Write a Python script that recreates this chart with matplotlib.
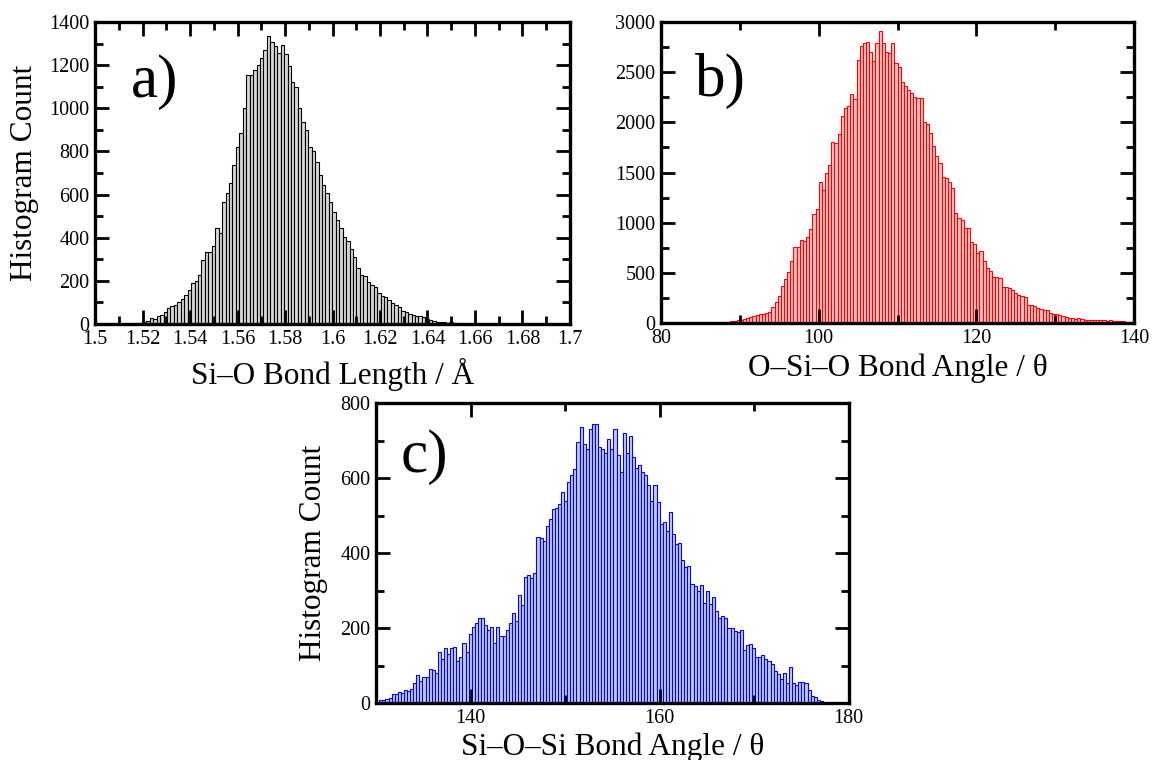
import numpy as np
import matplotlib
matplotlib.use("Agg")
import matplotlib.pyplot as plt
from matplotlib.ticker import MultipleLocator, FormatStrFormatter

plt.rcParams['font.family'] = ['Liberation Serif', 'DejaVu Serif']

# a) Si-O bond length histogram (bin width in Angstrom)
len_start = 1.51728
len_width = 0.00145
len_counts = [2, 5, 10, 12, 28, 25, 36, 40, 57, 72, 85, 88, 103, 115, 134, 158, 190, 200,
              227, 297, 332, 332, 363, 446, 420, 567, 605, 652, 737, 822, 884, 1000, 1154,
              1154, 1177, 1200, 1231, 1270, 1335, 1305, 1290, 1255, 1295, 1250, 1195, 1120,
              1100, 1000, 938, 899, 822, 802, 752, 690, 644, 605, 567, 520, 482, 443, 405,
              386, 350, 309, 258, 227, 222, 196, 181, 173, 142, 130, 127, 111, 96, 90, 78,
              62, 55, 47, 43, 39, 39, 31, 23, 19, 12, 8, 11, 8, 6, 8, 5, 3, 3, 2, 2]

# b) O-Si-O bond angle histogram
osio_start = 88.0
osio_width = 0.4
osio_counts = [8, 10, 15, 18, 25, 30, 35, 45, 55, 65, 75, 85, 90, 95, 110, 160, 210, 266,
               366, 440, 505, 620, 755, 760, 830, 820, 860, 940, 1090, 1140,
               1402, 1330, 1492, 1575, 1806, 1790, 1885, 2065, 2140, 2165, 2283, 2230, 2620,
               2765, 2790, 2804, 2700, 2614, 2790, 2914,
               2788, 2704, 2688, 2794, 2588, 2555, 2405, 2360, 2320, 2290, 2255, 2240, 2245,
               2007, 1983, 1890, 1760, 1665, 1599, 1460, 1443, 1410, 1343, 1100,
               1043, 1027, 950, 945, 811, 790, 700, 718, 620, 545, 515, 460, 460, 445, 362,
               355, 345, 329, 302, 279,
               266, 259, 176, 176, 166, 153, 143, 133, 126, 100, 93, 86, 77, 67, 60, 53, 53,
               43, 50, 43, 33, 33, 27, 33, 30, 27, 30, 22, 25, 20, 17, 17, 18, 14, 14]

# c) Si-O-Si bond angle histogram
siosi_start = 130.35
siosi_width = 0.326
siosi_counts = [9, 9, 11, 14, 25, 23, 29, 26, 35, 32, 38, 53, 75, 60, 70, 70, 92, 88, 79,
                135, 117, 146, 130, 146, 150, 113, 123, 159, 135, 185, 203, 214, 226, 227,
                208, 194, 204, 161, 204, 179, 179, 196, 214, 240, 220, 289, 261, 337, 342,
                333, 346, 443, 439, 432, 472, 492, 518, 520, 531, 562, 540, 590, 608, 624,
                696, 737, 690, 677, 730, 743, 745, 684, 678, 668, 703, 678, 730, 661, 615,
                721, 668, 712, 655, 628, 634, 615, 608, 581, 540, 581, 537, 478, 483, 458,
                509, 452, 425, 428, 381, 364, 366, 317, 311, 298, 315, 267, 300, 263, 282,
                245, 227, 232, 227, 199, 201, 192, 190, 196, 141, 155, 157, 148, 123, 122,
                129, 117, 113, 104, 85, 78, 64, 79, 53, 95, 53, 49, 55, 55, 53, 35, 20, 16,
                7, 5]

W, H = 1152, 760
fig = plt.figure(figsize=(W / 100, H / 100), dpi=100)


def make_axes(left, top, right, bottom):
    return fig.add_axes([left / W, 1 - bottom / H, (right - left) / W, (bottom - top) / H])


def histo(ax, start, width, counts, fill, edge):
    counts = np.array(counts)
    centers = start + width * (np.arange(len(counts)) + 0.5)
    ax.bar(centers, counts, width=width, color=fill, edgecolor=edge, linewidth=0.8)


def style(ax, xmaj, xmin, ymaj, ymin):
    ax.xaxis.set_major_locator(MultipleLocator(xmaj))
    ax.xaxis.set_minor_locator(MultipleLocator(xmin))
    ax.yaxis.set_major_locator(MultipleLocator(ymaj))
    ax.yaxis.set_minor_locator(MultipleLocator(ymin))
    ax.tick_params(which='both', direction='in', top=True, right=True, width=2,
                   labelsize=14.5)
    ax.tick_params(which='major', length=10, pad=4)
    ax.tick_params(which='minor', length=6)
    for s in ax.spines.values():
        s.set_linewidth(2.4)


ax1 = make_axes(95, 22, 570, 324)
histo(ax1, len_start, len_width, len_counts, '#d6d6d6', 'black')
ax1.set_xlim(1.5, 1.7)
ax1.set_ylim(0, 1400)
style(ax1, 0.02, 0.01, 200, 100)
ax1.xaxis.set_major_formatter(FormatStrFormatter('%g'))
ax1.set_xlabel('Si\u2013O Bond Length / \u00c5', fontsize=22.5)
ax1.xaxis.set_label_coords(0.5, -0.199)
ax1.xaxis.label.set_va('baseline')
ax1.set_ylabel('Histogram Count', fontsize=22.5)
ax1.yaxis.set_label_coords(-0.149, 0.5)
ax1.yaxis.label.set_va('center')
ax1.text(0.076, 0.752, 'a)', transform=ax1.transAxes, fontsize=44, va='baseline')

ax2 = make_axes(661, 22, 1134, 323)
histo(ax2, osio_start, osio_width, osio_counts, '#ffc4c4', 'red')
ax2.set_xlim(80, 140)
ax2.set_ylim(0, 3000)
style(ax2, 20, 10, 500, 250)
ax2.set_xlabel('O\u2013Si\u2013O Bond Angle / \u03b8', fontsize=22.5)
ax2.xaxis.set_label_coords(0.5, -0.176)
ax2.xaxis.label.set_va('baseline')
ax2.text(0.071, 0.754, 'b)', transform=ax2.transAxes, fontsize=44, va='baseline')

ax3 = make_axes(376, 403, 848.5, 703)
histo(ax3, siosi_start, siosi_width, siosi_counts, '#c4ccff', 'blue')
ax3.set_xlim(130, 180)
ax3.set_ylim(0, 800)
style(ax3, 20, 10, 200, 100)
ax3.set_xlabel('Si\u2013O\u2013Si Bond Angle / \u03b8', fontsize=22.5)
ax3.xaxis.set_label_coords(0.5, -0.173)
ax3.xaxis.label.set_va('baseline')
ax3.set_ylabel('Histogram Count', fontsize=22.5)
ax3.yaxis.set_label_coords(-0.133, 0.5)
ax3.yaxis.label.set_va('center')
ax3.text(0.053, 0.77, 'c)', transform=ax3.transAxes, fontsize=44, va='baseline')

fig.savefig('out.png', dpi=100)
